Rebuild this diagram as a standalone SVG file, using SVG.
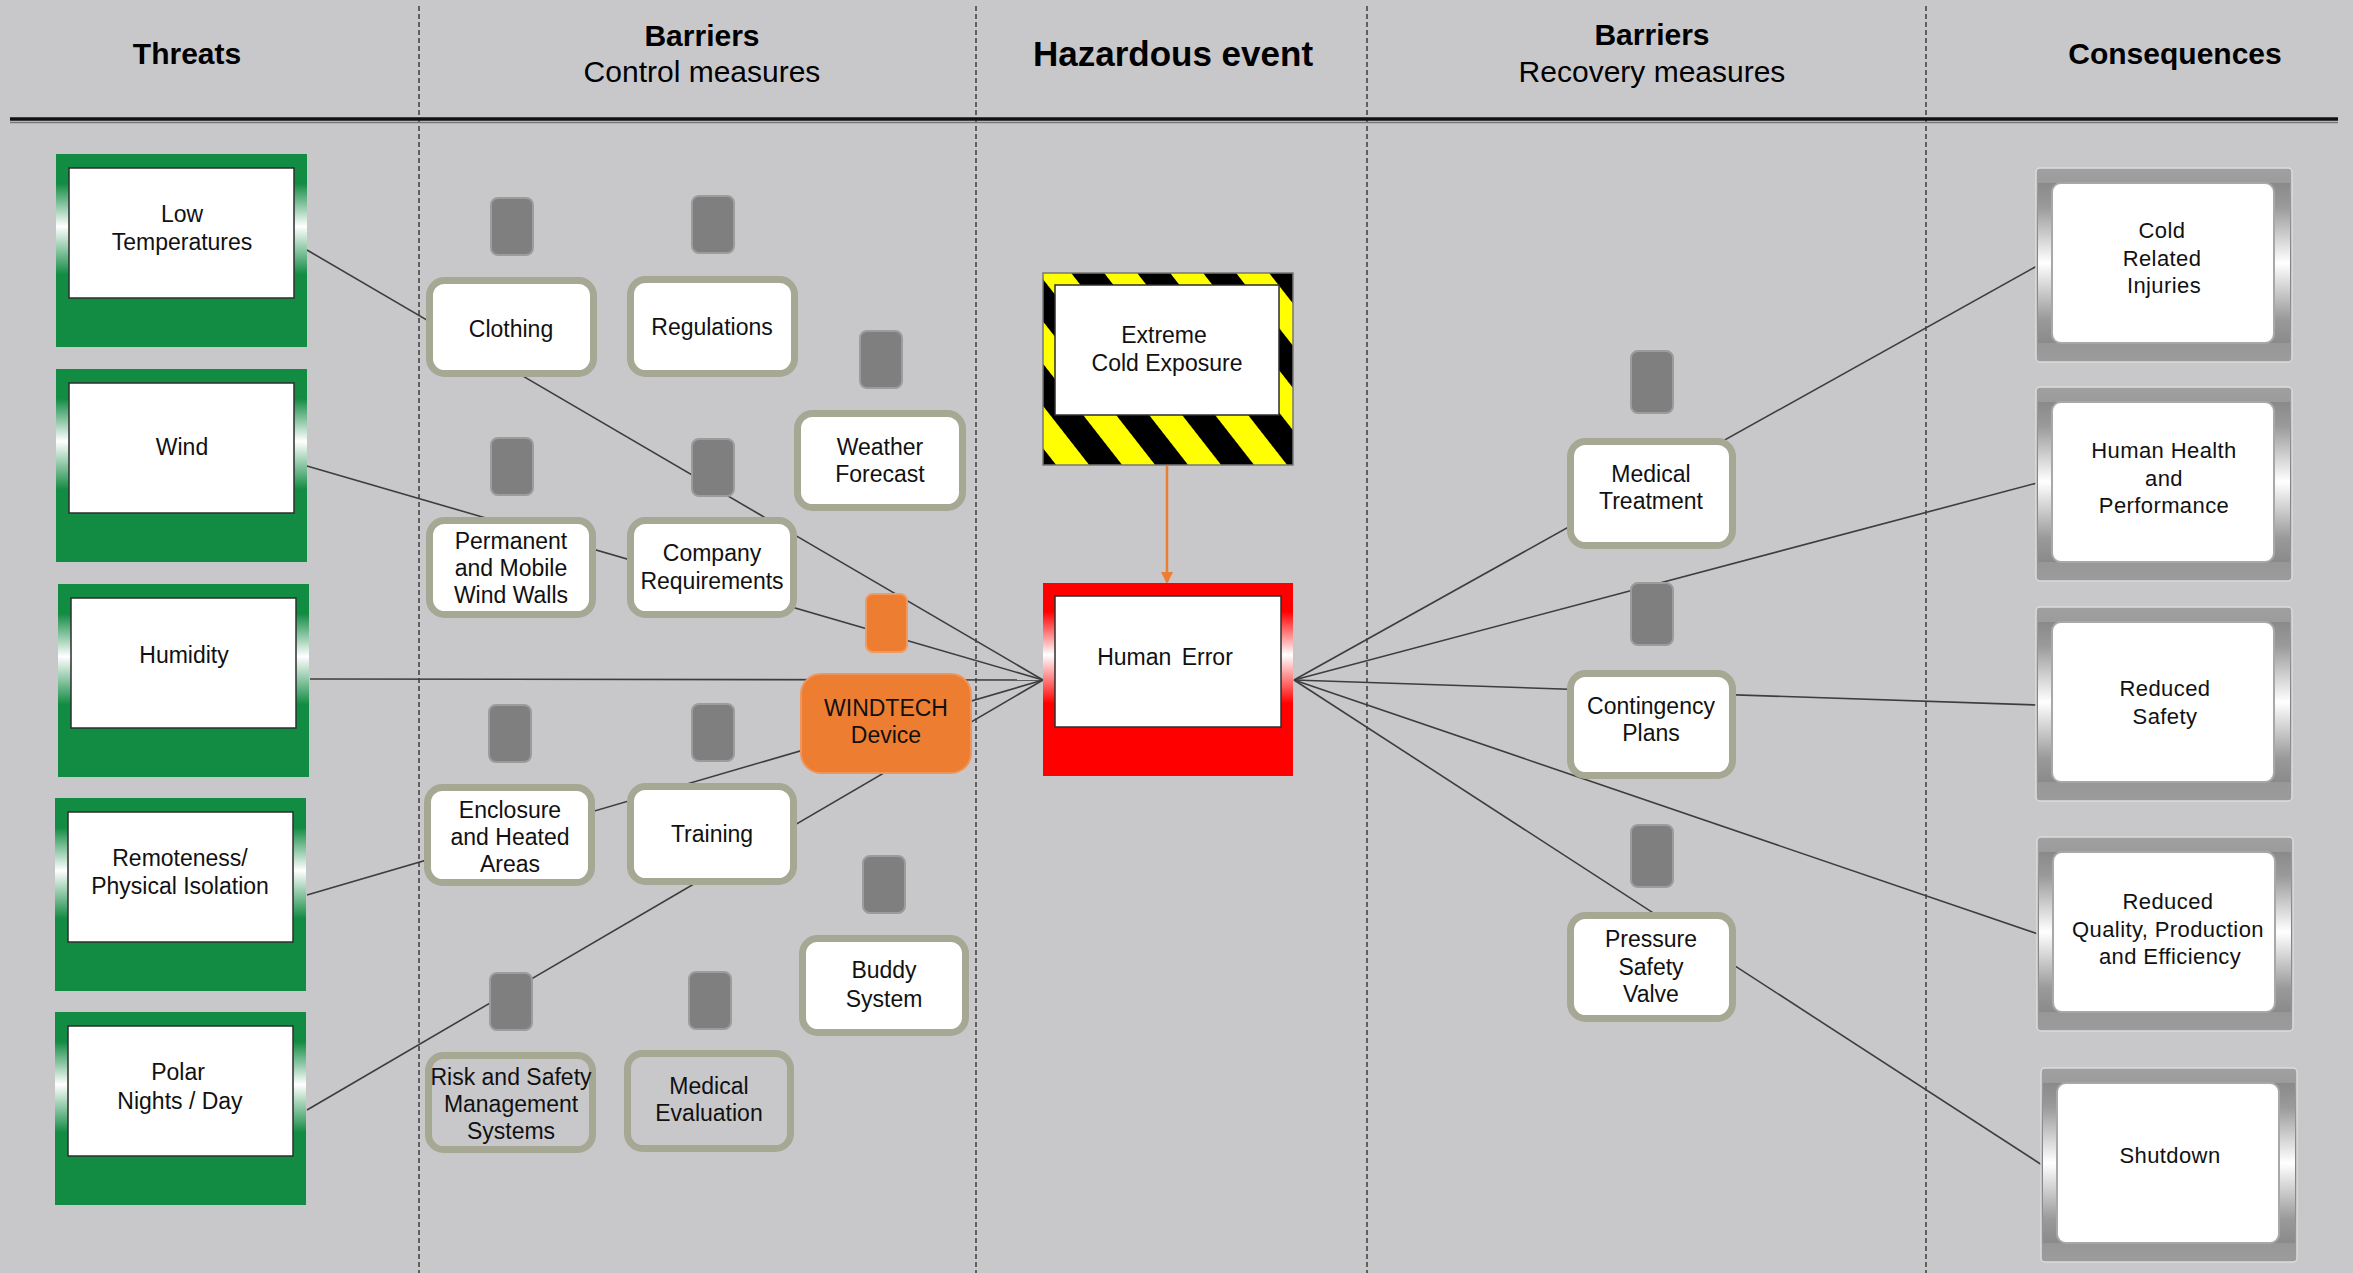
<svg xmlns="http://www.w3.org/2000/svg" width="2353" height="1273" viewBox="0 0 2353 1273">
<style>
.t{font-family:"Liberation Sans",Arial,sans-serif;font-size:23px;text-anchor:middle;fill:#111}
.c{font-family:"Liberation Sans",Arial,sans-serif;font-size:22px;text-anchor:middle;fill:#111;letter-spacing:0.4px}
.h{font-family:"Liberation Sans",Arial,sans-serif;font-size:30px;text-anchor:middle;fill:#000}
.hb{font-weight:bold}
.dash{stroke:#3c3c3c;stroke-width:1.5;stroke-dasharray:5 3;fill:none}
.ln{stroke:#3d3d3d;stroke-width:1.6;fill:none}
.bar{fill:#fff;stroke:#A6A894;stroke-width:7}
.barg{fill:#C8C8CB;stroke:#A6A894;stroke-width:7}
.blk{fill:#7F7F7F;stroke:#9C9C9C;stroke-width:2}
.gin{fill:#fff;stroke:#2e2e2e;stroke-width:1.5}
.cin{fill:#fff;stroke:#a8a8a8;stroke-width:2}
</style>
<defs>
<linearGradient id="gside" x1="0" y1="0" x2="0" y2="1">
<stop offset="0" stop-color="#128B43"/><stop offset="0.12" stop-color="#128B43"/><stop offset="0.45" stop-color="#ffffff"/><stop offset="0.82" stop-color="#128B43"/><stop offset="1" stop-color="#128B43"/>
</linearGradient>
<linearGradient id="rside" x1="0" y1="0" x2="0" y2="1">
<stop offset="0" stop-color="#FF0000"/><stop offset="0.12" stop-color="#FF0000"/><stop offset="0.45" stop-color="#ffffff"/><stop offset="0.82" stop-color="#FF0000"/><stop offset="1" stop-color="#FF0000"/>
</linearGradient>
<linearGradient id="cside" x1="0" y1="0" x2="0" y2="1">
<stop offset="0" stop-color="#8a8a8a"/><stop offset="0.15" stop-color="#9a9a9a"/><stop offset="0.5" stop-color="#ffffff"/><stop offset="0.85" stop-color="#9a9a9a"/><stop offset="1" stop-color="#8a8a8a"/>
</linearGradient>
<linearGradient id="cband" x1="0" y1="0" x2="0" y2="1">
<stop offset="0" stop-color="#a0a0a0"/><stop offset="0.5" stop-color="#828282"/><stop offset="1" stop-color="#9c9c9c"/>
</linearGradient>
<pattern id="haz" patternUnits="userSpaceOnUse" width="52" height="52" patternTransform="rotate(-38)">
<rect width="52" height="52" fill="#FFFF00"/><rect width="26" height="52" fill="#000"/>
</pattern>
<marker id="arr" viewBox="0 0 12 12" refX="10" refY="6" markerWidth="12" markerHeight="12" markerUnits="userSpaceOnUse" orient="auto">
<path d="M0,0 L12,6 L0,12 z" fill="#ED7D31"/>
</marker>
<symbol id="threat" overflow="visible">
<rect x="0" y="0" width="251" height="193" fill="#128B43"/>
<rect x="0" y="14" width="251" height="130" fill="url(#gside)"/>
<rect x="13" y="14" width="225" height="130" class="gin"/>
</symbol>
<symbol id="cons" overflow="visible">
<rect x="0" y="0" width="256" height="194" rx="4" fill="url(#cband)" stroke="#dcdcdc" stroke-width="1.5"/>
<rect x="2" y="15" width="252" height="160" fill="url(#cside)"/>
<rect x="16" y="15" width="222" height="160" rx="9" class="cin"/>
</symbol>
</defs>
<rect width="2353" height="1273" fill="#C8C8CB"/>

<g id="header">
<line x1="419" y1="6" x2="419" y2="1273" class="dash"/>
<line x1="976" y1="6" x2="976" y2="1273" class="dash"/>
<line x1="1367" y1="6" x2="1367" y2="1273" class="dash"/>
<line x1="1926" y1="6" x2="1926" y2="1273" class="dash"/>
<line x1="10" y1="119" x2="2338" y2="119" stroke="#111" stroke-width="3.5"/>
<line x1="10" y1="122.5" x2="2338" y2="122.5" stroke="#777" stroke-width="1.5"/>
<text x="187" y="64" class="h hb">Threats</text>
<text x="702" y="46" class="h hb">Barriers</text>
<text x="702" y="82" class="h">Control measures</text>
<text x="1173" y="66" class="h hb" style="font-size:35px">Hazardous event</text>
<text x="1652" y="45" class="h hb">Barriers</text>
<text x="1652" y="82" class="h">Recovery measures</text>
<text x="2175" y="64" class="h hb">Consequences</text>
</g>

<g id="connectors">
<line x1="307" y1="250" x2="1043" y2="680" class="ln"/>
<line x1="307" y1="466" x2="1043" y2="680" class="ln"/>
<line x1="310" y1="679" x2="1043" y2="680" class="ln"/>
<line x1="307" y1="895" x2="1043" y2="680" class="ln"/>
<line x1="307" y1="1110" x2="1043" y2="680" class="ln"/>
<line x1="1294" y1="680" x2="2037" y2="266" class="ln"/>
<line x1="1294" y1="680" x2="2037" y2="483" class="ln"/>
<line x1="1294" y1="680" x2="2037" y2="705" class="ln"/>
<line x1="1294" y1="680" x2="2038" y2="934" class="ln"/>
<line x1="1294" y1="680" x2="2042" y2="1165" class="ln"/>
<line x1="1167" y1="466" x2="1167" y2="582" stroke="#ED7D31" stroke-width="2.5" marker-end="url(#arr)"/>
</g>

<g id="threat-low-temperatures"><use href="#threat" x="56" y="154"/><text x="182" y="222" class="t">Low</text><text x="182" y="250" class="t">Temperatures</text></g>
<g id="threat-wind"><use href="#threat" x="56" y="369"/><text x="182" y="455" class="t">Wind</text></g>
<g id="threat-humidity"><use href="#threat" x="58" y="584"/><text x="184" y="663" class="t">Humidity</text></g>
<g id="threat-remoteness"><use href="#threat" x="55" y="798"/><text x="180" y="866" class="t">Remoteness/</text><text x="180" y="894" class="t">Physical Isolation</text></g>
<g id="threat-polar"><use href="#threat" x="55" y="1012"/><text x="178" y="1080" class="t">Polar</text><text x="180" y="1109" class="t">Nights / Day</text></g>

<g id="block-clothing"><rect x="491" y="198" width="42" height="57" rx="7" class="blk"/></g>
<g id="block-regulations"><rect x="692" y="196" width="42" height="57" rx="7" class="blk"/></g>
<g id="block-weather"><rect x="860" y="331" width="42" height="57" rx="7" class="blk"/></g>
<g id="block-windwalls"><rect x="491" y="438" width="42" height="57" rx="7" class="blk"/></g>
<g id="block-company"><rect x="692" y="439" width="42" height="57" rx="7" class="blk"/></g>
<g id="block-windtech"><rect x="866" y="594" width="41" height="58" rx="7" fill="#ED7D31" stroke="#F19A5E" stroke-width="2"/></g>
<g id="block-enclosure"><rect x="489" y="705" width="42" height="57" rx="7" class="blk"/></g>
<g id="block-training"><rect x="692" y="704" width="42" height="57" rx="7" class="blk"/></g>
<g id="block-buddy"><rect x="863" y="856" width="42" height="57" rx="7" class="blk"/></g>
<g id="block-risk"><rect x="490" y="973" width="42" height="57" rx="7" class="blk"/></g>
<g id="block-medeval"><rect x="689" y="972" width="42" height="57" rx="7" class="blk"/></g>
<g id="block-medtreat"><rect x="1631" y="351" width="42" height="62" rx="7" class="blk"/></g>
<g id="block-contingency"><rect x="1631" y="583" width="42" height="62" rx="7" class="blk"/></g>
<g id="block-psv"><rect x="1631" y="825" width="42" height="62" rx="7" class="blk"/></g>

<g id="barrier-clothing"><rect x="429.5" y="280.5" width="164" height="93" rx="15" class="bar"/><text x="511" y="337" class="t">Clothing</text></g>
<g id="barrier-regulations"><rect x="630.5" y="279.5" width="164" height="94" rx="15" class="bar"/><text x="712" y="335" class="t">Regulations</text></g>
<g id="barrier-weather"><rect x="797.5" y="413.5" width="165" height="94" rx="15" class="bar"/><text x="880" y="455" class="t">Weather</text><text x="880" y="482" class="t">Forecast</text></g>
<g id="barrier-windwalls"><rect x="429.5" y="520.5" width="163" height="94" rx="15" class="bar"/><text x="511" y="549" class="t">Permanent</text><text x="511" y="576" class="t">and Mobile</text><text x="511" y="603" class="t">Wind Walls</text></g>
<g id="barrier-company"><rect x="630.5" y="520.5" width="163" height="94" rx="15" class="bar"/><text x="712" y="561" class="t">Company</text><text x="712" y="589" class="t">Requirements</text></g>
<g id="barrier-windtech"><rect x="801" y="674" width="170" height="99" rx="20" fill="#ED7D31" stroke="#F0945A" stroke-width="2"/><text x="886" y="716" class="t">WINDTECH</text><text x="886" y="743" class="t">Device</text></g>
<g id="barrier-enclosure"><rect x="427.5" y="787.5" width="164" height="95" rx="15" class="bar"/><text x="510" y="818" class="t">Enclosure</text><text x="510" y="845" class="t">and Heated</text><text x="510" y="872" class="t">Areas</text></g>
<g id="barrier-training"><rect x="630.5" y="786.5" width="163" height="95" rx="15" class="bar"/><text x="712" y="842" class="t">Training</text></g>
<g id="barrier-buddy"><rect x="802.5" y="938.5" width="163" height="94" rx="15" class="bar"/><text x="884" y="978" class="t">Buddy</text><text x="884" y="1007" class="t">System</text></g>
<g id="barrier-risk"><rect x="428.5" y="1055.5" width="164" height="94" rx="15" class="barg"/><text x="511" y="1085" class="t">Risk and Safety</text><text x="511" y="1112" class="t">Management</text><text x="511" y="1139" class="t">Systems</text></g>
<g id="barrier-medeval"><rect x="627.5" y="1053.5" width="163" height="95" rx="15" class="barg"/><text x="709" y="1094" class="t">Medical</text><text x="709" y="1121" class="t">Evaluation</text></g>

<g id="hazard-extreme-cold"><rect x="1043" y="273" width="250" height="192" fill="url(#haz)" stroke="#777" stroke-width="1.5"/><rect x="1055" y="285" width="224" height="130" class="gin"/><text x="1164" y="343" class="t">Extreme</text><text x="1167" y="371" class="t">Cold Exposure</text></g>
<g id="event-human-error"><rect x="1043" y="583" width="250" height="193" fill="#FF0000"/><rect x="1043" y="596" width="250" height="131" fill="url(#rside)"/><rect x="1055" y="596" width="226" height="131" class="gin"/><text x="1165" y="665" class="t" style="word-spacing:4px">Human Error</text></g>

<g id="recovery-medical-treatment"><rect x="1570.5" y="441.5" width="162" height="104" rx="15" class="bar"/><text x="1651" y="482" class="t">Medical</text><text x="1651" y="509" class="t">Treatment</text></g>
<g id="recovery-contingency"><rect x="1570.5" y="673.5" width="162" height="102" rx="15" class="bar"/><text x="1651" y="714" class="t">Contingency</text><text x="1651" y="741" class="t">Plans</text></g>
<g id="recovery-psv"><rect x="1570.5" y="915.5" width="162" height="103" rx="15" class="bar"/><text x="1651" y="947" class="t">Pressure</text><text x="1651" y="975" class="t">Safety</text><text x="1651" y="1002" class="t">Valve</text></g>

<g id="cons-cold-injuries"><use href="#cons" x="2036" y="168"/><text x="2162" y="238" class="c">Cold</text><text x="2162" y="266" class="c">Related</text><text x="2164" y="293" class="c">Injuries</text></g>
<g id="cons-human-health"><use href="#cons" x="2036" y="387"/><text x="2164" y="458" class="c">Human Health</text><text x="2164" y="486" class="c">and</text><text x="2164" y="513" class="c">Performance</text></g>
<g id="cons-reduced-safety"><use href="#cons" x="2036" y="607"/><text x="2165" y="696" class="c">Reduced</text><text x="2165" y="724" class="c">Safety</text></g>
<g id="cons-reduced-quality"><use href="#cons" x="2037" y="837"/><text x="2168" y="909" class="c">Reduced</text><text x="2168" y="937" class="c">Quality, Production</text><text x="2170" y="964" class="c">and Efficiency</text></g>
<g id="cons-shutdown"><use href="#cons" x="2041" y="1068"/><text x="2170" y="1163" class="c">Shutdown</text></g>
</svg>
